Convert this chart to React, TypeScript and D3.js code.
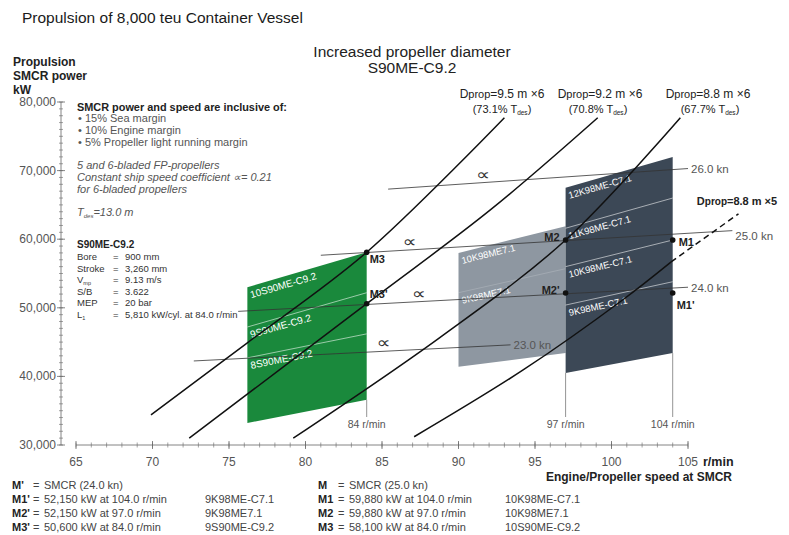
import React from "react";
import * as d3 from "d3";

const FONT = "'Liberation Sans', Arial, Helvetica, sans-serif";

const xTicks = [65, 70, 75, 80, 85, 90, 95, 100, 105];
const yTicks = [30000, 40000, 50000, 60000, 70000, 80000];

// propeller curves: [r/min, kW]
const prop95x6 = [[69.9, 34400], [76.2, 44900], [84, 58100], [93.0, 77700]];
const prop92x6 = [[72.4, 31000], [84, 50600], [92.1, 64300], [99.1, 77700]];
const prop88x6 = [[79.2, 31000], [88.8, 45700], [97, 59880], [104.5, 77700]];
const prop88x5 = [[87.1, 31200], [94.2, 40900], [100.7, 51100], [103.9, 56700]];
const prop88x5Ext = [[103.9, 56700], [108.3, 63700]];

// constant ship speed lines
const speedKn = ["26.0 kn", "25.0 kn", "24.0 kn", "23.0 kn"];
const speedStart = [[85.4, 67300], [81.0, 57660], [75.6, 49480], [72.7, 42250]];
const speedEnd = [[105.0, 70300], [107.9, 61250], [105.0, 53000], [93.4, 44600]];
const alphaMarkRpm = [91.6, 86.8, 87.4, 85.1];

// engine layout areas (left / right edge speeds, power at band boundaries, bottom -> top)
const greenRpm = [76.2, 84];
const greenLeft = [33200, 42700, 47200, 53000];
const greenRight = [36600, 46200, 52200, 58100];
const greenNames = ["8S90ME-C9.2", "9S90ME-C9.2", "10S90ME-C9.2"];

const grayRpm = [90, 97];
const grayLeft = [41400, 52200, 58000];
const grayRight = [43400, 55700, 61900];
const grayNames = ["9K98ME7.1", "10K98ME7.1"];

const darkRpm = [97, 104];
const darkLeft = [40500, 50400, 56000, 61600, 67500];
const darkRight = [43400, 53800, 59880, 66000, 72000];
const darkNames = ["9K98ME-C7.1", "10K98ME-C7.1", "11K98ME-C7.1", "12K98ME-C7.1"];

const mNames = ["M3", "M3'", "M2", "M2'", "M1", "M1'"];
const mRpm = [84, 84, 97, 97, 104, 104];
const mKw = [58100, 50600, 59880, 52150, 59880, 52150];

const legendKeysL = ["M'", "M1'", "M2'", "M3'"];
const legendValsL = ["SMCR (24.0 kn)", "52,150 kW at 104.0 r/min", "52,150 kW at 97.0 r/min", "50,600 kW at 84.0 r/min"];
const legendEngL = ["", "9K98ME-C7.1", "9K98ME7.1", "9S90ME-C9.2"];
const legendKeysR = ["M", "M1", "M2", "M3"];
const legendValsR = ["SMCR (25.0 kn)", "59,880 kW at 104.0 r/min", "59,880 kW at 97.0 r/min", "58,100 kW at 84.0 r/min"];
const legendEngR = ["", "10K98ME-C7.1", "10K98ME7.1", "10S90ME-C9.2"];

const specKeys = ["Bore", "Stroke", "V", "S/B", "MEP", "L"];
const specSubs = ["", "", "mp", "", "", "1"];
const specVals = ["900 mm", "3,260 mm", "9.13 m/s", "3.622", "20 bar", "5,810 kW/cyl. at 84.0 r/min"];

export default function App() {
  const x = d3.scaleLinear().domain([65, 105]).range([76, 688]);
  const y = d3.scaleLinear().domain([30000, 80000]).range([445, 102]);

  const curve = d3
    .line<number[]>()
    .x((d) => x(d[0]))
    .y((d) => y(d[1]))
    .curve(d3.curveCatmullRom.alpha(0.5));
  const straight = d3
    .line<number[]>()
    .x((d) => x(d[0]))
    .y((d) => y(d[1]));

  const regions = [
    { rpm: greenRpm, left: greenLeft, right: greenRight, names: greenNames, fill: "#1a893c", split: 0.8, fs: 10 },
    { rpm: grayRpm, left: grayLeft, right: grayRight, names: grayNames, fill: "#8e97a1", split: 0.25, fs: 9.5 },
    { rpm: darkRpm, left: darkLeft, right: darkRight, names: darkNames, fill: "#3c4856", split: 0.8, fs: 9.5 },
  ];

  const mOff: Record<string, [number, number, string]> = {
    M3: [3, 11, "start"],
    "M3'": [3, -6, "start"],
    M2: [-6, 1, "end"],
    "M2'": [-6, 1, "end"],
    M1: [6, 6, "start"],
    "M1'": [4, 16, "start"],
  };

  const lblOff = [4, 9, 5, 4];

  const xMinor = d3.range(65, 106, 1);
  const yMinor = d3.range(30000, 80001, 1000);

  const axisColor = "#666";
  const textGray = "#555";

  const propLines = [prop95x6, prop92x6, prop88x6, prop88x5];

  return (
    <svg
      width={789}
      height={535}
      style={{ position: "absolute", left: 0, top: 0, background: "#fff" }}
      fontFamily={FONT}
    >
      <rect x={0} y={0} width={789} height={535} fill="#fff" />

      {/* Titles */}
      <text x={22} y={23} fontSize={15.5} fill="#1a1a1a">
        Propulsion of 8,000 teu Container Vessel
      </text>
      <text x={412} y={57} textAnchor="middle" fontSize={15.5} fill="#222">
        Increased propeller diameter
      </text>
      <text x={412} y={73} textAnchor="middle" fontSize={15.5} fill="#222">
        S90ME-C9.2
      </text>

      {/* Y axis title */}
      <g fontSize={12} fontWeight="bold" fill="#222">
        <text x={13} y={66}>Propulsion</text>
        <text x={13} y={80}>SMCR power</text>
        <text x={13} y={94}>kW</text>
      </g>

      {/* Y axis */}
      <line x1={61} x2={61} y1={y(80000)} y2={y(30000)} stroke={axisColor} strokeWidth={0.8} />
      {yMinor.map((v) => (
        <line key={"ym" + v} x1={59} x2={63} y1={y(v)} y2={y(v)} stroke={axisColor} strokeWidth={0.6} />
      ))}
      {yTicks.map((v) => (
        <g key={"yt" + v}>
          <line x1={57} x2={65} y1={y(v)} y2={y(v)} stroke={axisColor} strokeWidth={0.8} />
          <text x={56} y={y(v) + 4} textAnchor="end" fontSize={12} fill={textGray}>
            {d3.format(",")(v)}
          </text>
        </g>
      ))}

      {/* X axis */}
      <line x1={x(65)} x2={x(105)} y1={y(30000)} y2={y(30000)} stroke={axisColor} strokeWidth={0.8} />
      {xMinor.map((v) => (
        <line key={"xm" + v} x1={x(v)} x2={x(v)} y1={y(30000) - 2.5} y2={y(30000) + 2.5} stroke={axisColor} strokeWidth={0.6} />
      ))}
      {xTicks.map((v) => (
        <g key={"xt" + v}>
          <line x1={x(v)} x2={x(v)} y1={y(30000) - 4} y2={y(30000) + 4} stroke={axisColor} strokeWidth={0.8} />
          <text x={x(v)} y={466} textAnchor="middle" fontSize={12} fill={textGray}>
            {v}
          </text>
        </g>
      ))}
      <text x={x(105) + 15} y={466} fontSize={12.5} fontWeight="bold" fill="#222">
        r/min
      </text>
      <text x={732} y={481} textAnchor="end" fontSize={12} fontWeight="bold" fill="#222">
        Engine/Propeller speed at SMCR
      </text>

      {/* Layout regions */}
      {regions.map((r, ri) => {
        const n = r.left.length - 1;
        const pts = [
          [x(r.rpm[0]), y(r.left[0])],
          [x(r.rpm[1]), y(r.right[0])],
          [x(r.rpm[1]), y(r.right[n])],
          [x(r.rpm[0]), y(r.left[n])],
        ];
        return (
          <g key={"reg" + ri}>
            <polygon points={pts.map((p) => p.join(",")).join(" ")} fill={r.fill} />
            {r.left.slice(1, n).map((v, k) => (
              <line
                key={"sp" + k}
                x1={x(r.rpm[0])}
                y1={y(v)}
                x2={x(r.rpm[1])}
                y2={y(r.right[k + 1])}
                stroke="#fff"
                strokeOpacity={r.split}
                strokeWidth={0.7}
              />
            ))}
            {r.names.map((nm, k) => {
              const x0 = x(r.rpm[0]);
              const y0 = y(r.left[k + 1]);
              const ang =
                (Math.atan2(y(r.right[k + 1]) - y0, x(r.rpm[1]) - x0) * 180) / Math.PI;
              const px = x0 + 4;
              const py = y0 + 11;
              return (
                <text
                  key={"nm" + k}
                  x={px}
                  y={py}
                  fontSize={r.fs}
                  fill="#fff"
                  transform={`rotate(${ang},${px},${py})`}
                >
                  {nm}
                </text>
              );
            })}
          </g>
        );
      })}

      {/* Constant ship speed lines */}
      {speedKn.map((kn, i) => {
        const a = speedStart[i];
        const b = speedEnd[i];
        const r = alphaMarkRpm[i];
        const t = (r - a[0]) / (b[0] - a[0]);
        const kv = a[1] + t * (b[1] - a[1]);
        const px = x(r);
        const py = y(kv) - 3;
        return (
          <g key={"sl" + i}>
            <path d={straight([a, b]) || ""} stroke="#333" strokeWidth={0.8} fill="none" />
            <text
              x={px}
              y={py}
              textAnchor="middle"
              fontSize={13}
              fontFamily="'DejaVu Sans', sans-serif"
              fill="#333"
              transform={`translate(${px},${py}) scale(1.5,1.2) translate(${-px},${-py})`}
            >
              ∝
            </text>
            <text x={x(b[0]) + 3} y={y(b[1]) + lblOff[i]} fontSize={11.5} fill={textGray}>
              {kn}
            </text>
          </g>
        );
      })}

      {/* r/min markers */}
      {[
        [84, greenRight[0]],
        [97, darkLeft[0]],
        [104, darkRight[0]],
      ].map(([rpm, kw]) => (
        <g key={"rm" + rpm}>
          <line x1={x(rpm)} x2={x(rpm)} y1={y(kw)} y2={417} stroke="#777" strokeWidth={0.8} />
          <text x={x(rpm)} y={428} textAnchor="middle" fontSize={10.5} fill={textGray}>
            {rpm} r/min
          </text>
        </g>
      ))}

      {/* Propeller curves */}
      {propLines.map((p, i) => (
        <path key={"pc" + i} d={curve(p) || ""} stroke="#111" strokeWidth={1.5} fill="none" />
      ))}
      <path d={straight(prop88x5Ext) || ""} stroke="#111" strokeWidth={1.5} fill="none" strokeDasharray="6,4" />

      {/* Propeller labels */}
      <g fontSize={12} fill="#222" textAnchor="middle">
        <text x={502} y={98}>
          D<tspan fontSize={11}>prop</tspan>=9.5 m ×6
        </text>
        <text x={502} y={113} fontSize={11}>
          (73.1% T<tspan fontSize={6.5} dy={2}>des</tspan>
          <tspan dy={-2}>)</tspan>
        </text>
        <text x={600} y={98}>
          D<tspan fontSize={11}>prop</tspan>=9.2 m ×6
        </text>
        <text x={598} y={113} fontSize={11}>
          (70.8% T<tspan fontSize={6.5} dy={2}>des</tspan>
          <tspan dy={-2}>)</tspan>
        </text>
        <text x={708} y={98}>
          D<tspan fontSize={11}>prop</tspan>=8.8 m ×6
        </text>
        <text x={710} y={113} fontSize={11}>
          (67.7% T<tspan fontSize={6.5} dy={2}>des</tspan>
          <tspan dy={-2}>)</tspan>
        </text>
        <text x={737} y={205} fontSize={11} fontWeight="bold">
          D<tspan fontSize={10}>prop</tspan>=8.8 m ×5
        </text>
      </g>

      {/* M points */}
      {mNames.map((nm, i) => {
        const cx = x(mRpm[i]);
        const cy = y(mKw[i]);
        const o = mOff[nm];
        return (
          <g key={"mp" + nm}>
            <circle cx={cx} cy={cy} r={2.8} fill="#111" />
            <text x={cx + o[0]} y={cy + o[1]} textAnchor={o[2] as any} fontSize={11} fontWeight="bold" fill="#222">
              {nm}
            </text>
          </g>
        );
      })}

      {/* Annotation block */}
      <text x={77} y={111} fontSize={10.9} fontWeight="bold" fill="#222">
        SMCR power and speed are inclusive of:
      </text>
      <g fontSize={11} fill={textGray}>
        <text x={78} y={122}>• 15% Sea margin</text>
        <text x={78} y={134}>• 10% Engine margin</text>
        <text x={78} y={146}>• 5% Propeller light running margin</text>
      </g>
      <g fontSize={11} fill={textGray} fontStyle="italic">
        <text x={77} y={169}>5 and 6-bladed FP-propellers</text>
        <text x={77} y={181}>Constant ship speed coefficient  ∝= 0.21</text>
        <text x={77} y={193}>for 6-bladed propellers</text>
        <text x={77} y={216}>
          T<tspan fontSize={6} dy={2}>des</tspan>
          <tspan dy={-2}>=13.0 m</tspan>
        </text>
      </g>

      {/* Spec block */}
      <text x={77} y={248} fontSize={10} fontWeight="bold" fill="#222">
        S90ME-C9.2
      </text>
      {specKeys.map((k, i) => (
        <g key={"sp" + i} fontSize={9.5} fill="#333">
          <text x={77} y={260 + i * 11.6}>
            {k}
            {specSubs[i] ? (
              <tspan fontSize={5.5} dy={2}>
                {specSubs[i]}
              </tspan>
            ) : null}
          </text>
          <text x={113} y={260 + i * 11.6}>=</text>
          <text x={125} y={260 + i * 11.6}>{specVals[i]}</text>
        </g>
      ))}

      {/* Legend */}
      {legendKeysL.map((k, i) => {
        const yy = 489 + i * 14;
        return (
          <g key={"lg" + i} fontSize={11}>
            <text x={12} y={yy} fontWeight="bold" fill="#222">{k}</text>
            <text x={33} y={yy} fill="#444">=</text>
            <text x={44} y={yy} fill="#444">{legendValsL[i]}</text>
            <text x={205} y={yy} fill="#444">{legendEngL[i]}</text>
            <text x={318} y={yy} fontWeight="bold" fill="#222">{legendKeysR[i]}</text>
            <text x={338} y={yy} fill="#444">=</text>
            <text x={349} y={yy} fill="#444">{legendValsR[i]}</text>
            <text x={505} y={yy} fill="#444">{legendEngR[i]}</text>
          </g>
        );
      })}
    </svg>
  );
}
